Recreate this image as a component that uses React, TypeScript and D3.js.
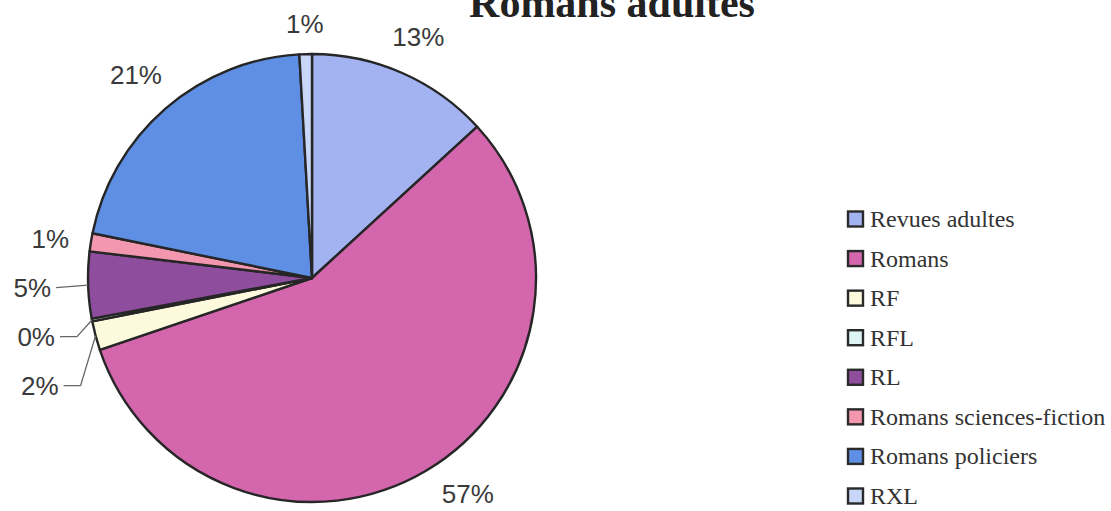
import { useEffect, useRef } from "react";
import * as d3 from "d3";

// Répartition des romans adultes
const CATEGORIES = [
  "Revues adultes",
  "Romans",
  "RF",
  "RFL",
  "RL",
  "Romans sciences-fiction",
  "Romans policiers",
  "RXL",
];
const VALUES = [13.2, 56.6, 2.1, 0.2, 4.8, 1.3, 20.9, 0.9];
const COLORS = [
  "#a3b3f2",
  "#d466ae",
  "#fdf9dc",
  "#ddf4f5",
  "#8e4d9d",
  "#f397ae",
  "#5e8fe4",
  "#c8d6f7",
];
const TITLE = "Romans adultes";

const W = 1111;
const H = 511;
const CX = 312;
const CY = 278;
const R = 224;
const PAD = 21;
const FS = 26;

type Slice = d3.PieArcDatum<number> & { i: number };

export default function App() {
  const svgRef = useRef<SVGSVGElement | null>(null);

  useEffect(() => {
    const svg = svgRef.current;
    if (!svg) return;
    svg.innerHTML = "";
    const root = d3.select(svg).attr("width", W).attr("height", H);

    // Titre (coupé en haut comme sur l'original)
    root
      .append("text")
      .attr("x", 612)
      .attr("y", 17)
      .attr("text-anchor", "middle")
      .style("font-family", "'Liberation Serif', 'Times New Roman', serif")
      .style("font-weight", "bold")
      .style("font-size", "42px")
      .attr("fill", "#222")
      .text(TITLE);

    const pie = d3.pie<number>().sort(null).value((d) => d);
    const slices: Slice[] = pie(VALUES).map((d, i) => ({ ...d, i }));
    const arc = d3.arc<Slice>().innerRadius(0).outerRadius(R);

    const g = root.append("g").attr("transform", `translate(${CX},${CY})`);

    g.selectAll("path")
      .data(slices)
      .join("path")
      .attr("d", arc)
      .attr("fill", (d) => COLORS[d.i])
      .attr("stroke", "#262626")
      .attr("stroke-width", 2.4)
      .attr("stroke-linejoin", "round");

    // Étiquettes en pourcentage
    const total = d3.sum(VALUES);
    const pct = (d: Slice) => `${Math.round((d.value / total) * 100)}%`;
    const mid = (d: Slice) => (d.startAngle + d.endAngle) / 2;
    const polar = (a: number, r: number): [number, number] => [
      r * Math.sin(a),
      -r * Math.cos(a),
    ];

    type Lab = { d: Slice; x: number; y: number; anchor: string; leader: boolean };
    const labels: Lab[] = slices.map((d) => {
      const a = mid(d);
      const txt = pct(d);
      const w = (txt.length - 1) * 0.556 * FS + 0.889 * FS;
      const h = 0.72 * FS;
      const dist =
        R + PAD + Math.abs(Math.sin(a)) * (w / 2) + Math.abs(Math.cos(a)) * (h / 2);
      let [x, y] = polar(a, dist);
      // reste dans le cadre en bas
      const maxY = H - CY - 17;
      if (y > maxY) {
        y = maxY;
        x = Math.sign(x) * Math.sqrt(Math.max(0, dist * dist - y * y));
      }
      return { d, x, y, anchor: "middle", leader: false };
    });

    // petites parts à gauche : empilées verticalement, avec lignes de rappel
    const cluster = labels
      .filter((l) => {
        const a = (mid(l.d) * 180) / Math.PI;
        return a > 200 && a < 300 && l.d.value < 6;
      })
      .sort((a, b) => a.y - b.y);
    const GAP = 49;
    cluster.forEach((l, k) => {
      if (k === 0) {
        l.y += 3;
        return;
      }
      l.y = Math.max(l.y, cluster[k - 1].y + GAP);
      const [rx] = polar(mid(l.d), R);
      l.x = rx - 37;
      l.anchor = "end";
      l.leader = true;
    });

    labels
      .filter((l) => l.leader)
      .forEach((l) => {
        const [px, py] = polar(mid(l.d), R);
        const pts: [number, number][] =
          Math.abs(py - l.y) < 4
            ? [
                [l.x + 5, l.y],
                [px, py],
              ]
            : [
                [l.x + 5, l.y],
                [px - 15, l.y],
                [px, py],
              ];
        g.append("path")
          .attr("d", d3.line()(pts))
          .attr("fill", "none")
          .attr("stroke", "#666")
          .attr("stroke-width", 1.3);
      });

    g.selectAll("text.pct")
      .data(labels)
      .join("text")
      .attr("class", "pct")
      .attr("x", (l) => l.x)
      .attr("y", (l) => l.y)
      .attr("dy", "0.36em")
      .attr("text-anchor", (l) => l.anchor)
      .style("font-family", "'Liberation Sans', Arial, sans-serif")
      .style("font-size", `${FS}px`)
      .attr("fill", "#3a3a3a")
      .text((l) => pct(l.d));

    // Légende
    const ly = d3.scalePoint<string>().domain(CATEGORIES).range([219, 496]);
    const leg = root
      .selectAll("g.leg")
      .data(CATEGORIES)
      .join("g")
      .attr("class", "leg")
      .attr("transform", (c) => `translate(848,${ly(c)})`);
    leg
      .append("rect")
      .attr("x", 0)
      .attr("y", -7.5)
      .attr("width", 15)
      .attr("height", 15)
      .attr("fill", (_, i) => COLORS[i])
      .attr("stroke", "#2a2a2a")
      .attr("stroke-width", 2.4);
    leg
      .append("text")
      .attr("x", 22)
      .attr("y", 8)
      .style("font-family", "'Liberation Serif', 'Times New Roman', serif")
      .style("font-size", "24px")
      .attr("fill", "#333")
      .text((c) => c);
  }, []);

  return (
    <div style={{ position: "absolute", left: 0, top: 0, width: W, height: H, background: "#fff" }}>
      <svg ref={svgRef} role="img" aria-label="Romans adultes" />
    </div>
  );
}
